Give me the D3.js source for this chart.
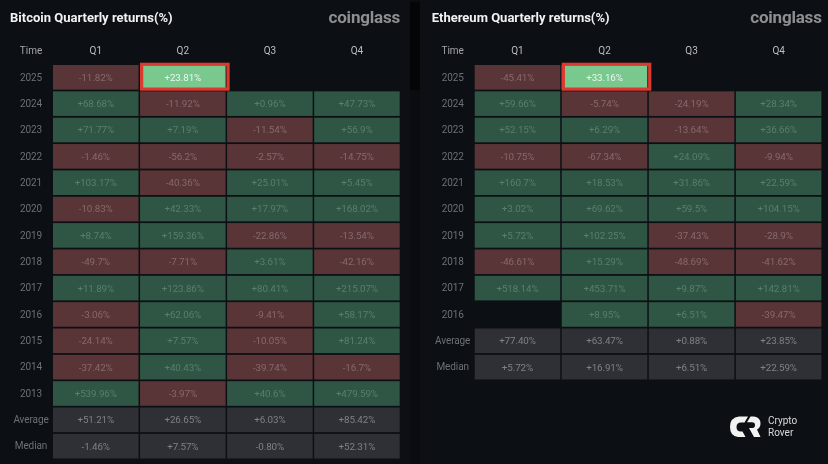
<!DOCTYPE html>
<html><head><meta charset="utf-8">
<script src="https://cdn.jsdelivr.net/npm/d3@7/dist/d3.min.js"></script>
<style>
html,body{margin:0;padding:0;background:#0c0f14}
svg{display:block;filter:blur(0.3px)}
text{font-family:Roboto,"Noto Sans",sans-serif}
</style></head><body><svg id="c" width="828" height="464"></svg>
<script>
const quarters=["Q1","Q2","Q3","Q4"];
const btcYears=["2025","2024","2023","2022","2021","2020","2019","2018","2017","2016","2015","2014","2013"];
const btcQ1=[-11.82,68.68,71.77,-1.46,103.17,-10.83,8.74,-49.7,11.89,-3.06,-24.14,-37.42,539.96];
const btcQ2=[23.81,-11.92,7.19,-56.2,-40.36,42.33,159.36,-7.71,123.86,62.06,7.57,40.43,-3.97];
const btcQ3=[null,0.96,-11.54,-2.57,25.01,17.97,-22.86,3.61,80.41,-9.41,-10.05,-39.74,40.6];
const btcQ4=[null,47.73,56.9,-14.75,5.45,168.02,-13.54,-42.16,215.07,58.17,81.24,-16.7,479.59];
const btcAverage=[51.21,26.65,6.03,85.42];
const btcMedian=[-1.46,7.57,-0.80,52.31];
const ethYears=["2025","2024","2023","2022","2021","2020","2019","2018","2017","2016"];
const ethQ1=[-45.41,59.66,52.15,-10.75,160.7,3.02,5.72,-46.61,518.14,null];
const ethQ2=[33.16,-5.74,6.29,-67.34,18.53,69.62,102.25,15.29,453.71,8.95];
const ethQ3=[null,-24.19,-13.64,24.09,31.86,59.5,-37.43,-48.69,9.87,6.51];
const ethQ4=[null,28.34,36.66,-9.94,22.59,104.15,-28.9,-41.62,142.81,-39.47];
const ethAverage=[77.40,63.47,0.88,23.85];
const ethMedian=[5.72,16.91,6.51,22.59];

const svg=d3.select("#c");
svg.append("rect").attr("width",828).attr("height",464).attr("fill","#0c0f14");
svg.append("rect").attr("x",410).attr("width",10).attr("height",464).attr("fill","#0a0c10");
svg.append("rect").attr("x",410).attr("y",2).attr("width",10).attr("height",88).attr("fill","#040506");

const STEP=26.35,GAP=1.75;
function sign(v){return v>0?"+":""}
function panel(opt){
  const g=svg.append("g");
  const rows=[...opt.years,"Average","Median"];
  const x=d3.scaleBand().domain(quarters).range([opt.x0,opt.x0+346.7]).paddingInner(0.0173);
  const y=d3.scaleBand().domain(rows).range([65,65+rows.length*STEP-GAP]).paddingInner(GAP/STEP);
  const cells=[];
  opt.series.forEach((s,qi)=>s.forEach((v,ri)=>cells.push({q:quarters[qi],row:opt.years[ri],v,kind:"year"})));
  quarters.forEach((q,i)=>{
    cells.push({q,row:"Average",v:opt.average[i],kind:"sum"});
    cells.push({q,row:"Median",v:opt.median[i],kind:"sum"});
  });
  const shown=cells.filter(d=>d.v!==null);
  const isHi=d=>d.row==="2025"&&d.q==="Q2";
  const fill=d=>isHi(d)?"#79c98f":d.kind==="sum"?"#2e3035":d.v>=0?"#2f5644":"#5a3537";
  const tcol=d=>isHi(d)?"#eef5f0":d.kind==="sum"?"#7f8184":d.v>=0?"#587f6b":"#86696b";
  g.selectAll("rect.cell").data(shown).join("rect").attr("class","cell")
    .attr("x",d=>x(d.q)).attr("y",d=>y(d.row))
    .attr("width",x.bandwidth()).attr("height",y.bandwidth()).attr("fill",fill);
  // highlight frame on the current quarter
  g.append("rect")
    .attr("x",x("Q2")+1.6).attr("y",y("2025")-0.7)
    .attr("width",x.bandwidth()-0.9+GAP).attr("height",y.bandwidth()+0.2)
    .attr("fill","none").attr("stroke","#dc3a30").attr("stroke-width",3.2);
  g.selectAll("text.val").data(shown).join("text").attr("class","val")
    .attr("x",d=>x(d.q)+x.bandwidth()/2).attr("y",d=>y(d.row)+y.bandwidth()/2)
    .attr("dy","0.35em").attr("text-anchor","middle")
    .attr("font-size",9.8).attr("letter-spacing",-0.1).attr("fill",tcol)
    .text(d=>sign(d.v)+(d.kind==="sum"?d.v.toFixed(2):d.v)+"%");
  // axes
  const top=g.append("g").attr("transform","translate(0,50)").call(d3.axisTop(x).tickSize(0).tickPadding(0));
  top.select(".domain").remove();
  top.selectAll("text").attr("dy","0.35em").attr("font-size",10).attr("font-family","Roboto").attr("fill","#bdbec0");
  const left=g.append("g").attr("transform",`translate(${opt.x0-22},0)`).call(d3.axisLeft(y).tickSize(0).tickPadding(0));
  left.select(".domain").remove();
  left.selectAll("text").attr("text-anchor","middle").attr("font-size",10).attr("font-family","Roboto").attr("fill","#6d7074").attr("letter-spacing",-0.1);
  g.append("text").attr("x",opt.x0-22).attr("y",50).attr("dy","0.35em").attr("text-anchor","middle")
    .attr("font-size",10).attr("fill","#a3a5a8").text("Time");
  g.append("text").attr("x",opt.x0-43).attr("y",22).attr("font-size",13).attr("font-weight",700)
    .attr("fill","#f1f2f3").text(opt.title);
  g.append("text").attr("x",opt.x0+347).attr("y",22.5).attr("text-anchor","end")
    .attr("font-size",17).attr("font-weight",700).attr("font-family","'Open Sans'")
    .attr("fill","#8d8f90").attr("letter-spacing",-0.2).text("coinglass");
}
panel({x0:53,title:"Bitcoin Quarterly returns(%)",years:btcYears,series:[btcQ1,btcQ2,btcQ3,btcQ4],average:btcAverage,median:btcMedian});
panel({x0:474.7,title:"Ethereum Quarterly returns(%)",years:ethYears,series:[ethQ1,ethQ2,ethQ3,ethQ4],average:ethAverage,median:ethMedian});

// Crypto Rover watermark
const w=svg.append("g").attr("transform","translate(730,416.5)");
w.append("path").attr("fill","#f1f2f2").attr("d","M9 0H18L14.5 6H11Q6.5 6 6.5 10.5Q6.5 15 11 15H12.5L15.5 20.5H8Q0 19.5 0 10.5Q0 1 9 0Z");
w.append("path").attr("fill","#f1f2f2").attr("d","M20.5 0H24Q30.5 1 30.5 7Q30.5 11 27 13L30.5 20.5H24L19 11.5H22.5Q25 11.5 25 8.5Q25 5.8 22 5.8H17Z");
["Crypto","Rover"].forEach((t,i)=>w.append("text").attr("x",38).attr("y",7.7+i*12.2)
  .attr("font-size",10).attr("font-family","Inter").attr("fill","#d9dadb").text(t));
</script></body></html>
